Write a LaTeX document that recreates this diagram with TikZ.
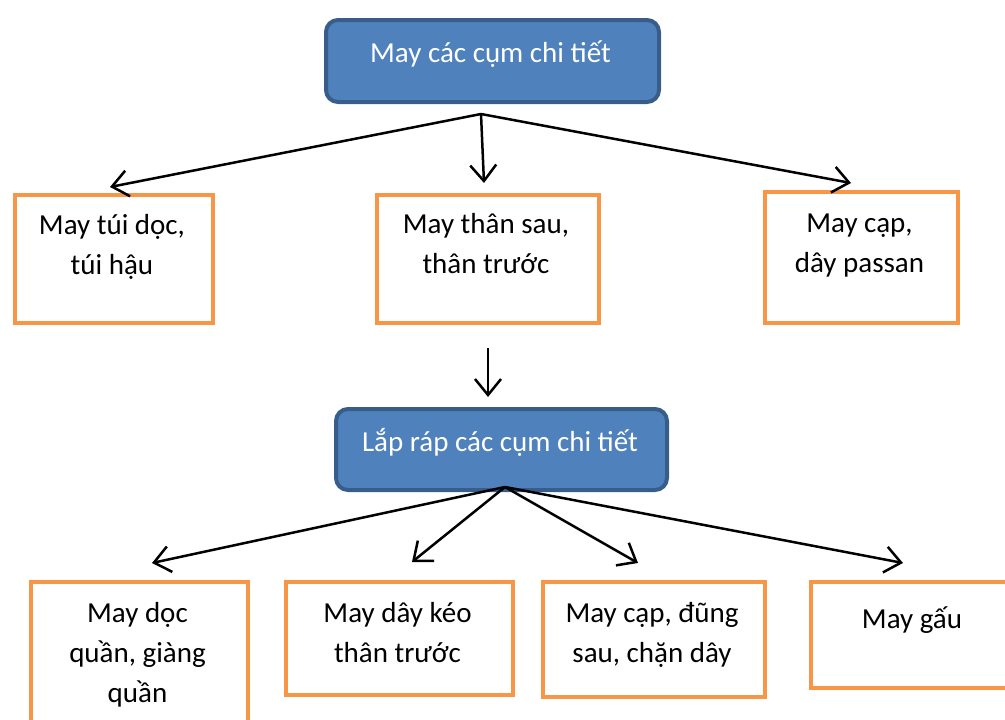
\documentclass[tikz,border=0pt]{standalone}
\usepackage{fontspec}
\setmainfont{Carlito}
\usetikzlibrary{arrows.meta}
\definecolor{boxblue}{HTML}{4F81BD}
\definecolor{boxblueline}{HTML}{385D8A}
\definecolor{boxorange}{HTML}{F79646}
\begin{document}
\begin{tikzpicture}[x=1pt,y=-1pt,
  headbox/.style={draw=boxblueline, fill=boxblue, line width=4pt, rounded corners=12pt, anchor=north west, inner sep=0pt},
  stepbox/.style={draw=boxorange, fill=white, line width=4pt, anchor=north west, inner sep=0pt},
  % base anchor of a multi-line text sits on its last line
  boxtext/.style={align=center, anchor=base, font=\fontsize{29}{40}\selectfont, inner sep=0pt},
  link/.style={line width=2.5pt, -{Straight Barb[length=16pt,width=26pt]}}
]
\useasboundingbox (0,0) rectangle (1005,720);
\clip (0,0) rectangle (1005,720);

% main stages
\node[headbox, minimum width=333pt, minimum height=82pt] (top) at (324,18) {};
\node[boxtext, text=white] (toptext) at (490.5,62) {May các cụm chi tiết};
\node[headbox, minimum width=331pt, minimum height=81pt] (mid) at (334,407) {};
\node[boxtext, text=white] (midtext) at (500,451) {Lắp ráp các cụm chi tiết};

% first row of sub-assemblies
\node[stepbox, minimum width=198pt, minimum height=128pt] (s1) at (13,193) {};
\node[boxtext] (s1text) at (112,274) {May túi dọc,\\túi hậu};
\node[stepbox, minimum width=222pt, minimum height=128pt] (s2) at (375,193) {};
\node[boxtext] (s2text) at (486,273) {May thân sau,\\thân trước};
\node[stepbox, minimum width=193pt, minimum height=131pt] (s3) at (763,190) {};
\node[boxtext] (s3text) at (859.5,272) {May cạp,\\dây passan};

% second row of assembly steps
\node[stepbox, minimum width=217pt, minimum height=200pt] (s4) at (29,580) {};
\node[boxtext] (s4text) at (137.5,702) {May dọc\\quần, giàng\\quần};
\node[stepbox, minimum width=227pt, minimum height=113pt] (s5) at (284,580) {};
\node[boxtext] (s5text) at (397.5,662) {May dây kéo\\thân trước};
\node[stepbox, minimum width=222pt, minimum height=115pt] (s6) at (541,580) {};
\node[boxtext] (s6text) at (652,662) {May cạp, đũng\\sau, chặn dây};
\node[stepbox, minimum width=206pt, minimum height=106pt] (s7) at (809,580) {};
\node[boxtext] (s7text) at (912,628) {May gấu};

% connectors
\coordinate (hubA) at (481,114);
\draw[link] (hubA) -- ([xshift=-4pt,yshift=6pt]s1.north);
\draw[link] (hubA) -- ([xshift=-4pt,yshift=10pt]s2.north);
\draw[link] (hubA) -- ([xshift=-10.5pt,yshift=7pt]s3.north);
\draw[link] ([yshift=-23pt]s2.south) -- ([xshift=-13.5pt,yshift=10pt]mid.north);
\coordinate (hubB) at (505,487);
\draw[link] (hubB) -- ([xshift=12.5pt,yshift=17pt]s4.north);
\draw[link] (hubB) -- ([xshift=12.5pt,yshift=18pt]s5.north);
\draw[link] (hubB) -- ([xshift=-16pt,yshift=17pt]s6.north);
\draw[link] (hubB) -- ([xshift=-11pt,yshift=17pt]s7.north);
\end{tikzpicture}
\end{document}
